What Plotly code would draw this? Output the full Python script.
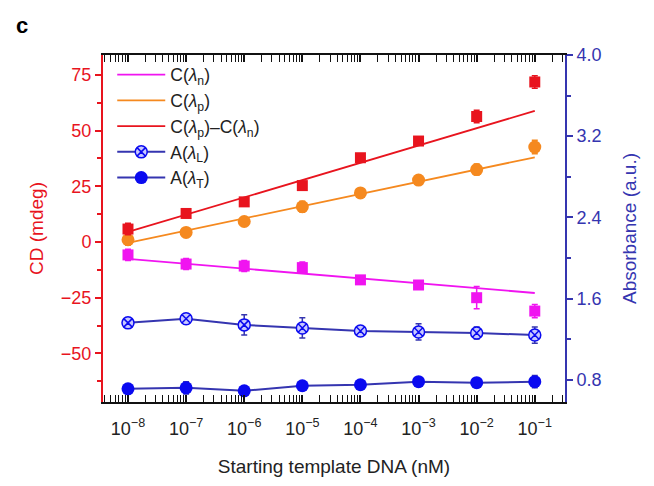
import plotly.graph_objects as go

x = [1e-8, 1e-7, 1e-6, 1e-5, 1e-4, 1e-3, 1e-2, 1e-1]
x_ticktext = ["10<sup>−8</sup>", "10<sup>−7</sup>", "10<sup>−6</sup>", "10<sup>−5</sup>",
              "10<sup>−4</sup>", "10<sup>−3</sup>", "10<sup>−2</sup>", "10<sup>−1</sup>"]

cd_diff = [5.8, 12.8, 18.0, 25.3, 37.8, 45.3, 56.3, 71.8]
cd_diff_err = [2.6, 1.8, 1.8, 1.8, 1.8, 1.8, 2.8, 2.8]
cd_p = [1.0, 4.3, 9.2, 15.8, 22.0, 27.8, 32.5, 42.6]
cd_p_err = [2.5, 1.5, 1.5, 2.5, 1.5, 1.5, 2.5, 3.0]
cd_n = [-5.8, -9.9, -10.8, -11.5, -17.0, -19.3, -25.0, -31.0]
cd_n_err = [2.5, 2.5, 2.5, 2.5, 1.5, 1.5, 5.0, 3.0]

fit_x = [1e-8, 1e-1]
fit_diff = [4.5, 58.8]
fit_p = [-0.4, 38.0]
fit_n = [-7.6, -22.9]

abs_L = [1.36, 1.40, 1.34, 1.31, 1.28, 1.27, 1.26, 1.24]
abs_L_err = [0.04, 0.05, 0.10, 0.10, 0.04, 0.08, 0.06, 0.08]
abs_T = [0.71, 0.72, 0.69, 0.74, 0.75, 0.78, 0.77, 0.78]
abs_T_err = [0.03, 0.06, 0.03, 0.03, 0.03, 0.04, 0.03, 0.06]

RED = "#e8141e"
ORANGE = "#f5891f"
MAG = "#f014f0"
BLUE = "#0a0af0"
DBLUE = "#3535b0"
FONT = "Liberation Sans, Arial, sans-serif"

fig = go.Figure()

fig.add_trace(go.Scatter(x=fit_x, y=fit_n, mode="lines", line=dict(color=MAG, width=1.8),
                         name="C(<i>λ</i><sub>n</sub>)"))
fig.add_trace(go.Scatter(x=fit_x, y=fit_p, mode="lines", line=dict(color=ORANGE, width=1.8),
                         name="C(<i>λ</i><sub>p</sub>)"))
fig.add_trace(go.Scatter(x=fit_x, y=fit_diff, mode="lines", line=dict(color=RED, width=1.8),
                         name="C(<i>λ</i><sub>p</sub>)–C(<i>λ</i><sub>n</sub>)"))

fig.add_trace(go.Scatter(x=x, y=cd_n, mode="markers", showlegend=False,
                         marker=dict(symbol="square", size=11, color=MAG),
                         error_y=dict(type="data", array=cd_n_err, color=MAG, thickness=1.5, width=3)))
fig.add_trace(go.Scatter(x=x, y=cd_p, mode="markers", showlegend=False,
                         marker=dict(symbol="circle", size=13, color=ORANGE),
                         error_y=dict(type="data", array=cd_p_err, color=ORANGE, thickness=1.5, width=3)))
fig.add_trace(go.Scatter(x=x, y=cd_diff, mode="markers", showlegend=False,
                         marker=dict(symbol="square", size=11, color=RED),
                         error_y=dict(type="data", array=cd_diff_err, color=RED, thickness=1.5, width=3)))

fig.add_trace(go.Scatter(x=x, y=abs_L, mode="lines+markers", yaxis="y2",
                         name="A(<i>λ</i><sub>L</sub>)",
                         line=dict(color=DBLUE, width=2),
                         marker=dict(symbol="circle-x", size=12, color="#c8c8ff",
                                     line=dict(color=BLUE, width=1.5)),
                         error_y=dict(type="data", array=abs_L_err, color=DBLUE, thickness=1.5, width=3)))
fig.add_trace(go.Scatter(x=x, y=abs_T, mode="lines+markers", yaxis="y2",
                         name="A(<i>λ</i><sub>T</sub>)",
                         line=dict(color=DBLUE, width=2),
                         marker=dict(symbol="circle", size=13, color=BLUE),
                         error_y=dict(type="data", array=abs_T_err, color=DBLUE, thickness=1.5, width=3)))

minor_vals = [m * 10.0 ** e for e in range(-9, 0) for m in range(2, 10)]

fig.update_layout(
    width=654, height=486,
    margin=dict(l=95, r=97, t=47, b=92, autoexpand=False),
    paper_bgcolor="white", plot_bgcolor="white",
    font=dict(family=FONT, size=16, color="#222"),
    showlegend=True,
    legend=dict(x=0.02, y=0.995, xanchor="left", yanchor="top",
                bgcolor="rgba(0,0,0,0)", font=dict(size=17.5, color="#222"),
                tracegroupgap=0, itemwidth=48),
    xaxis=dict(type="log", range=[-8.43, -0.48], automargin=False,
               tickvals=x, ticktext=x_ticktext, ticklabelstandoff=9,
               ticks="inside", ticklen=7, tickcolor="#111", tickwidth=1.5,
               minor=dict(tickvals=minor_vals, ticks="inside", ticklen=4, tickcolor="#111", tickwidth=1),
               showline=True, linecolor="#111", linewidth=2, mirror="allticks",
               showgrid=False, zeroline=False,
               tickfont=dict(size=18, color="#222"),
               title=dict(text="Starting template DNA (nM)", font=dict(size=19, color="#222"), standoff=22)),
    yaxis=dict(range=[-71.8, 83.9], tickvals=[-50, -25, 0, 25, 50, 75], automargin=False,
               ticks="outside", ticklen=6, tickcolor=RED, tickwidth=1.5,
               minor=dict(dtick=12.5, tick0=0, ticks="outside", ticklen=4, tickcolor=RED),
               showline=True, linecolor=RED, linewidth=2, mirror=False,
               showgrid=False, zeroline=False,
               tickfont=dict(size=18, color=RED),
               title=dict(text="CD (mdeg)", font=dict(size=19, color=RED), standoff=12)),
    yaxis2=dict(range=[0.58, 4.0], overlaying="y", side="right", automargin=False,
                tickvals=[0.8, 1.6, 2.4, 3.2, 4.0], ticktext=["0.8", "1.6", "2.4", "3.2", "4.0"],
                ticks="outside", ticklen=6, tickcolor=DBLUE, tickwidth=1.5,
                minor=dict(dtick=0.4, tick0=0, ticks="outside", ticklen=4, tickcolor=DBLUE),
                showline=True, linecolor=DBLUE, linewidth=2,
                showgrid=False, zeroline=False,
                tickfont=dict(size=18, color=DBLUE),
                title=dict(text="Absorbance (a.u.)", font=dict(size=19, color=DBLUE), standoff=22)),
    annotations=[dict(text="<b>c</b>", x=-0.175, y=1.086, xref="paper", yref="paper",
                      xanchor="center", yanchor="middle",
                      showarrow=False, font=dict(size=22, color="black"))],
)

fig.write_html("out.html")
